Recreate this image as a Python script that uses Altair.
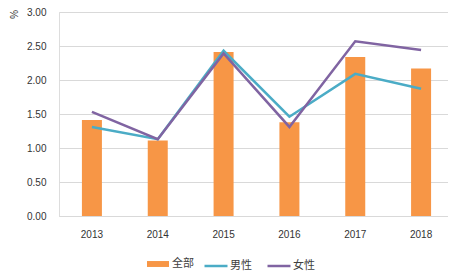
import altair as alt
import pandas as pd

years = ["2013", "2014", "2015", "2016", "2017", "2018"]
all_vals = [1.41, 1.11, 2.41, 1.38, 2.34, 2.17]
male_vals = [1.31, 1.13, 2.43, 1.46, 2.09, 1.87]
female_vals = [1.53, 1.13, 2.39, 1.31, 2.57, 2.44]
series_names = ["全部", "男性", "女性"]
series_colors = ["#F79646", "#4BACC6", "#8064A2"]
y_ticks = [0, 0.5, 1.0, 1.5, 2.0, 2.5, 3.0]

rows = []
for name, vals in zip(series_names, [all_vals, male_vals, female_vals]):
    for yr, v in zip(years, vals):
        rows.append({"year": yr, "value": v, "series": name})
df = pd.DataFrame(rows)

common_legend = dict(
    orient="none",
    direction="horizontal",
    title=None,
    padding=0,
    labelFont="Noto Sans CJK SC",
    labelFontSize=11,
    labelColor="#404040",
    columnPadding=10,
)

fill = alt.Fill(
    "series:N",
    scale=alt.Scale(domain=series_names[:1], range=series_colors[:1]),
    legend=alt.Legend(
        legendX=88,
        legendY=241,
        symbolType="M-1,-0.27H1V0.27H-1Z",
        symbolSize=484,
        symbolStrokeWidth=0,
        symbolOpacity=1,
        labelOffset=3,
        **common_legend,
    ),
)

stroke = alt.Stroke(
    "series:N",
    scale=alt.Scale(domain=series_names[1:], range=series_colors[1:]),
    sort=series_names[1:],
    legend=alt.Legend(
        legendX=144,
        legendY=241,
        symbolType="stroke",
        symbolSize=529,
        symbolStrokeWidth=2.5,
        symbolOpacity=1,
        labelOffset=1,
        **common_legend,
    ),
)

x = alt.X(
    "year:N",
    sort=years,
    scale=alt.Scale(range=[0, 395]),
    axis=alt.Axis(
        title=None,
        labelAngle=0,
        ticks=False,
        tickSize=0,
        labelPadding=13,
        labelFont="Liberation Sans",
        labelFontSize=10,
        labelColor="#333333",
        domainColor="#D9D9D9",
        domainWidth=1,
        grid=False,
    ),
)

y = alt.Y(
    "value:Q",
    scale=alt.Scale(domain=[0, 3.0], nice=False),
    axis=alt.Axis(
        title="%",
        titleAngle=90,
        titleX=-47,
        titleY=2,
        titleAlign="center",
        titleBaseline="middle",
        titleFont="Liberation Sans",
        titleFontSize=10,
        titleFontWeight="normal",
        titleColor="#333333",
        values=y_ticks,
        format=".2f",
        ticks=False,
        domain=False,
        labelPadding=13,
        labelFont="Liberation Sans",
        labelFontSize=10,
        labelColor="#333333",
        gridColor="#D9D9D9",
        gridWidth=1,
    ),
)

bars = alt.Chart(df).transform_filter(alt.datum.series == "全部").mark_bar(size=20).encode(
    x=x, y=y, fill=fill
)

lines = alt.Chart(df).transform_filter(alt.datum.series != "全部").mark_line(strokeWidth=2.5).encode(
    x=x, y=y, stroke=stroke, order=alt.Order("year:N")
)

chart = alt.layer(bars, lines).resolve_scale(fill="independent", stroke="independent").properties(
    width=389,
    height=204,
    padding={"left": 51, "top": 4, "right": 0, "bottom": 55},
    autosize=alt.AutoSizeParams(type="none"),
).configure_view(stroke=None).configure(background="white")

chart.save("out.html", embed_options={"renderer": "svg", "actions": False})
